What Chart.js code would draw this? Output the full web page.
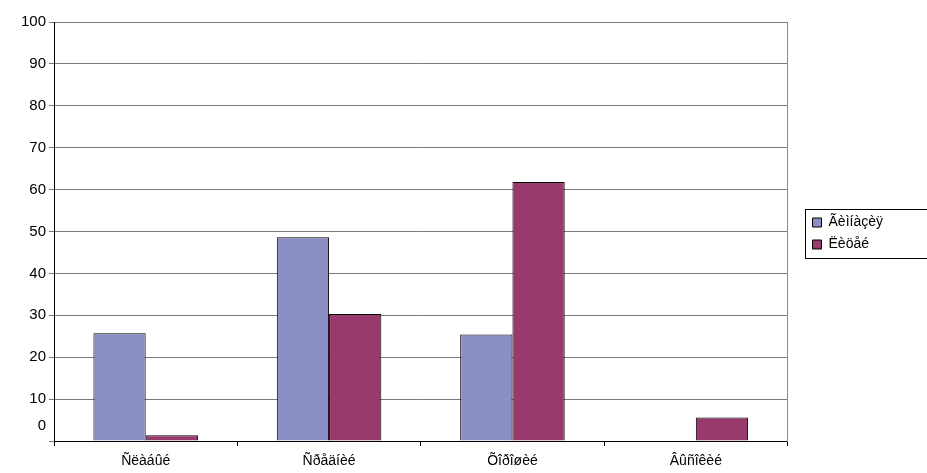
<!DOCTYPE html>
<html>
<head>
<meta charset="utf-8">
<script src="https://cdn.jsdelivr.net/npm/chart.js@4"></script>
<style>
  html, body { margin: 0; padding: 0; background: #fff; }
  #wrap { width: 927px; height: 473px; }
</style>
</head>
<body>
<div id="wrap"><canvas id="levelChart" width="927" height="473"></canvas></div>
<script>
const categories = ['Ñëàáûé', 'Ñðåäíèé', 'Õîðîøèé', 'Âûñîêèé'];
const gymnasium = [25.7, 48.6, 25.4, 0];
const lyceum = [1.4, 30.3, 61.8, 5.6];
const seriesNames = ['Ãèìíàçèÿ', 'Ëèöåé'];
const yTicks = [0, 10, 20, 30, 40, 50, 60, 70, 80, 90, 100];

const FONT = 'Liberation Sans, Arial, sans-serif';

// legend sits a bit above the middle in the original, with a black frame
const legendFrame = {
    id: 'legendFrame',
    afterLayout(chart) {
        chart.legend.top -= 14;
        chart.legend.bottom -= 14;
    },
    afterDraw(chart) {
        const lg = chart.legend;
        if (!lg || !lg.legendHitBoxes || !lg.legendHitBoxes.length) return;
        const boxes = lg.legendHitBoxes;
        const top = boxes[0].top - 7;
        const bottom = boxes[boxes.length - 1].top + boxes[boxes.length - 1].height + 6;
        const ctx = chart.ctx;
        ctx.save();
        ctx.strokeStyle = '#000';
        ctx.lineWidth = 1;
        ctx.strokeRect(Math.round(lg.left) + 0.5, Math.round(top) + 0.5, 200, Math.round(bottom - top));
        ctx.restore();
    }
};

new Chart(document.getElementById('levelChart').getContext('2d'), {
    type: 'bar',
    data: {
        labels: categories,
        datasets: [{
            label: seriesNames[0],
            data: gymnasium,
            backgroundColor: '#8c8fc6',
            borderColor: '#000',
            borderWidth: 1,
            categoryPercentage: 0.57,
            barPercentage: 1
        }, {
            label: seriesNames[1],
            data: lyceum,
            backgroundColor: '#993a6c',
            borderColor: '#000',
            borderWidth: 1,
            categoryPercentage: 0.57,
            barPercentage: 1
        }]
    },
    options: {
        responsive: false,
        animation: false,
        layout: { padding: { top: 22, left: 0, right: 34, bottom: 0 } },
        plugins: {
            tooltip: { enabled: false },
            legend: {
                position: 'right',
                labels: {
                    boxWidth: 9,
                    boxHeight: 9,
                    padding: 8,
                    color: '#000',
                    font: { family: FONT, size: 14 }
                }
            }
        },
        scales: {
            x: {
                grid: { drawOnChartArea: false, tickLength: 5, color: '#000' },
                border: { color: '#000' },
                ticks: { color: '#000', padding: 7, font: { family: FONT, size: 14 } },
                afterFit(scale) { scale.height = 32; }
            },
            y: {
                min: 0,
                max: 100,
                afterBuildTicks(scale) { scale.ticks = yTicks.map(v => ({ value: v })); },
                grid: { color: '#7a7a7a', tickLength: 5 },
                border: { color: '#000' },
                ticks: {
                    autoSkip: false,
                    color: '#000',
                    padding: 3,
                    font: { family: FONT, size: 15, lineHeight: 1 },
                    // the "0" sits above its gridline in the original
                    callback: v => v === 0 ? ['0', '', ''] : String(v)
                },
                afterFit(scale) { scale.width = 54; }
            },
            side: {
                position: 'right',
                min: 0,
                max: 100,
                grid: { drawOnChartArea: false, drawTicks: false },
                border: { color: '#8a8a8a' },
                ticks: { display: false },
                afterFit(scale) { scale.width = 17; }
            }
        }
    },
    plugins: [legendFrame]
});
</script>
</body>
</html>
